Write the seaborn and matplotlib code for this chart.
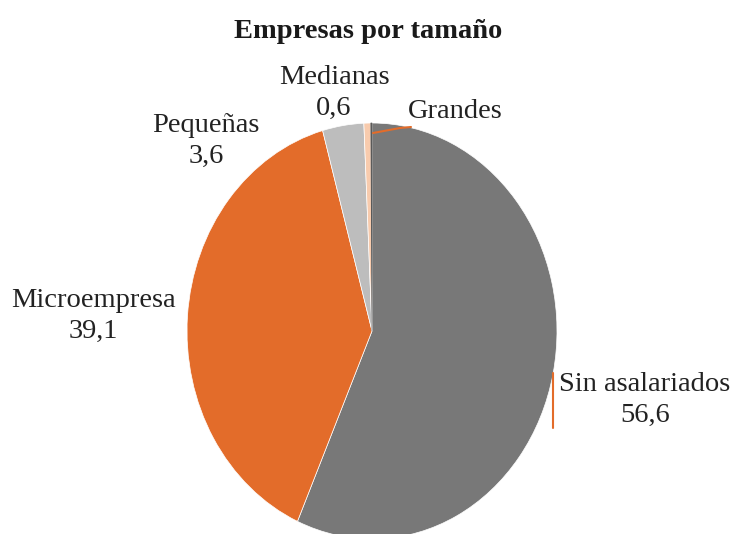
import matplotlib
matplotlib.use("Agg")
import matplotlib.pyplot as plt
import seaborn as sns

sizes = ["Sin asalariados", "Microempresa", "Pequeñas", "Medianas", "Grandes"]
shares = [56.6, 39.1, 3.6, 0.6, 0.1]
share_labels = ["56,6", "39,1", "3,6", "0,6", ""]
colors = ["#787878", "#E36C2A", "#BDBDBD", "#F8CBAD", "#5A5A5A"]

sns.set_theme(style="white")
plt.rcParams["font.family"] = ["Liberation Serif", "DejaVu Serif"]

W, H = 734, 534
fig = plt.figure(figsize=(W / 100, H / 100), dpi=100)

# pie centre and radii in pixels (the reference pie is a slightly tall ellipse)
cx, cy, rx, ry = 372, 331, 185, 208
ax = fig.add_axes([(cx - rx) / W, (H - cy - ry) / H, 2 * rx / W, 2 * ry / H])

wedges, _ = ax.pie(shares, colors=colors, startangle=90, counterclock=False,
                   wedgeprops={"linewidth": 0.5, "edgecolor": "white"})
wedges[-1].set_edgecolor(colors[-1])
ax.set_aspect("auto")
ax.set_xlim(-1, 1)
ax.set_ylim(-1, 1)
ax.axis("off")


def to_data(px, py):
    return (px - cx) / rx, (cy - py) / ry


# label centres in pixels
label_pos = {
    "Sin asalariados": (645, 400),
    "Microempresa": (93, 316),
    "Pequeñas": (206, 141),
    "Medianas": (334, 93),
    "Grandes": (455, 111),
}
for name, val in zip(sizes, share_labels):
    x, y = to_data(*label_pos[name])
    txt = name if val == "" else f"{name}\n{val}"
    ax.text(x, y, txt, ha="center", va="center", fontsize=20.5, color="#222222",
            linespacing=1.3, clip_on=False)

# leader lines
lead = "#E36C2A"
pts = [to_data(373, 133), to_data(400, 128), to_data(411, 127)]
ax.plot([p[0] for p in pts], [p[1] for p in pts], color=lead, lw=1.5, clip_on=False)
p1, p2 = to_data(553, 373), to_data(553, 428)
ax.plot([p1[0], p2[0]], [p1[1], p2[1]], color=lead, lw=1.5, clip_on=False)

fig.text(368 / W, 1 - 31 / H, "Empresas por tamaño", ha="center", va="center",
         fontsize=20.5, fontweight="bold", color="#1a1a1a")

fig.savefig("out.png", dpi=100)
